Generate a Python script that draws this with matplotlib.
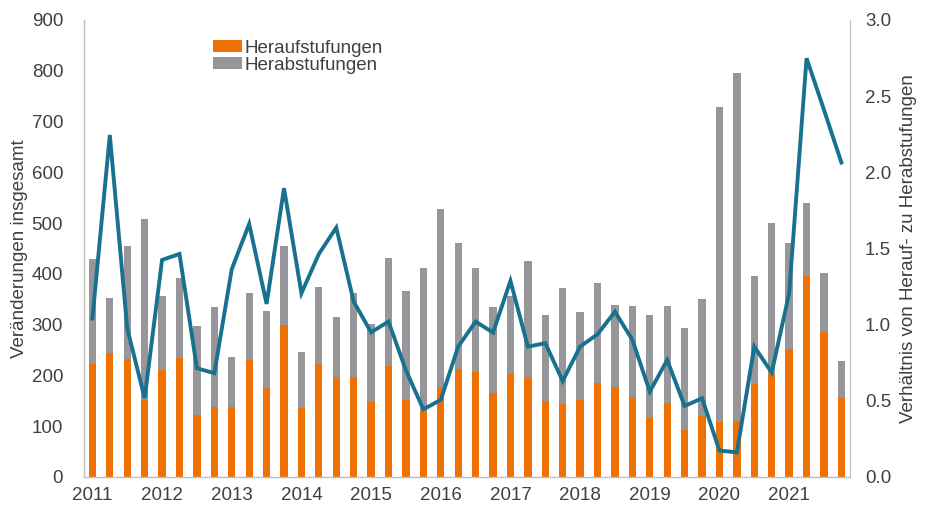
import matplotlib
matplotlib.use("Agg")
import matplotlib.pyplot as plt
import numpy as np

plt.rcParams['font.family'] = ['Liberation Sans', 'DejaVu Sans']

years = [str(y) for y in range(2011, 2022)]
upgrades = [222, 244, 232, 152, 211, 234, 123, 137, 137, 230, 176, 299,
            135, 222, 197, 197, 148, 219, 152, 127, 178, 212, 207, 165,
            202, 197, 150, 144, 152, 186, 178, 158, 116, 146, 93, 120,
            109, 110, 184, 203, 253, 396, 285, 156]
totals = [429, 352, 455, 509, 356, 392, 297, 335, 237, 363, 326, 455,
          247, 375, 316, 363, 301, 431, 366, 412, 527, 461, 411, 334,
          356, 425, 319, 373, 325, 383, 339, 337, 319, 337, 293, 350,
          728, 795, 396, 501, 460, 539, 401, 229]
downgrades = [t - u for t, u in zip(totals, upgrades)]
ratio = [1.04, 2.245, 0.976, 0.517, 1.425, 1.464, 0.714, 0.681, 1.364, 1.661, 1.136, 1.896,
         1.206, 1.464, 1.637, 1.151, 0.95, 1.02, 0.70, 0.444, 0.506, 0.856, 1.02, 0.948,
         1.287, 0.856, 0.878, 0.63, 0.856, 0.937, 1.085, 0.90, 0.56, 0.768, 0.466, 0.517,
         0.173, 0.162, 0.856, 0.685, 1.206, 2.749, 2.41, 2.064]

orange = '#EE7203'
gray = '#97969B'
teal = '#18728F'
txt = '#404040'

fig = plt.figure(figsize=(9.4, 5.26), dpi=100)
ax = fig.add_axes([0.0894, 0.0932, 0.8146, 0.8688])
x = np.arange(len(upgrades))
w = 0.42
ax.bar(x, upgrades, w, color=orange, label='Heraufstufungen', zorder=2)
ax.bar(x, downgrades, w, bottom=upgrades, color=gray, label='Herabstufungen', zorder=2)
ax.set_xlim(-0.48, len(x) - 0.52)
ax.set_ylim(0, 900)
ax.set_yticks(range(0, 901, 100))
ax.set_xticks(x[::4])
ax.set_xticklabels(years)
ax.tick_params(axis='x', length=0, labelsize=13.5, colors=txt, pad=7)
ax.tick_params(axis='y', length=0, labelsize=13.5, colors=txt, pad=15)
ax.set_ylabel('Veränderungen insgesamt', fontsize=13.5, color=txt, labelpad=3)
for s in ['top', 'right']:
    ax.spines[s].set_visible(False)
for s in ['left', 'bottom']:
    ax.spines[s].set_color('#BFBFBF')
    ax.spines[s].set_linewidth(1)

ax2 = ax.twinx()
ax2.plot(x, ratio, color=teal, lw=2.8, zorder=3, solid_joinstyle='miter')
ax2.set_ylim(0, 3.0)
ax2.set_yticks(np.arange(0, 3.01, 0.5))
ax2.set_yticklabels([f'{v:.1f}' for v in np.arange(0, 3.01, 0.5)])
ax2.tick_params(axis='y', length=0, labelsize=13.5, colors=txt, pad=11)
ax2.set_ylabel('Verhältnis von Herauf- zu Herabstufungen', fontsize=13.5, color=txt, labelpad=6)
for s in ['top', 'left', 'bottom']:
    ax2.spines[s].set_visible(False)
ax2.spines['right'].set_color('#BFBFBF')

leg = ax.legend(loc='upper left', bbox_to_anchor=(0.168, 0.957), frameon=False,
                fontsize=13.5, handlelength=1.55, handleheight=0.55, borderpad=0,
                borderaxespad=0, handletextpad=0.15, labelspacing=0.0, labelcolor=txt)
fig.savefig('out.png', dpi=100)
